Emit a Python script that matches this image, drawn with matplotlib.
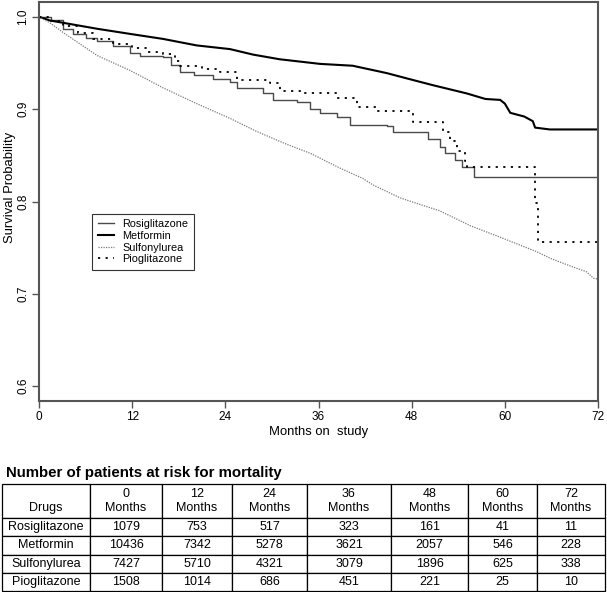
#!/usr/bin/env python3
# Kaplan-Meier style survival curves by drug, with the number-at-risk table below

import numpy as np
import matplotlib
matplotlib.use("Agg")
import matplotlib.pyplot as plt

plt.rcParams['font.family'] = ['Liberation Sans', 'DejaVu Sans']

# survival curves (months, survival probability)
metformin_t = [0, 1.4, 3.1, 7.5, 11.7, 16, 20.3, 24.6, 27.6, 31, 36.2, 40.4, 44.8, 47.5,
               50.7, 55.1, 57.5, 59.4, 60.0, 60.7, 62.5, 63.6, 63.9, 65.8, 72]
metformin_s = [1.0, 0.996, 0.9935, 0.987, 0.9815, 0.976, 0.969, 0.965, 0.959, 0.954, 0.949,
               0.947, 0.939, 0.933, 0.926, 0.917, 0.911, 0.910, 0.906, 0.896, 0.892, 0.887,
               0.880, 0.878, 0.878]

sulfonylurea_t = [0, 1.4, 3.1, 7.5, 11.7, 16, 20.3, 24.6, 28, 31.6, 35, 38.8, 41.7, 43, 46.5,
                  49, 51.6, 55.5, 59.8, 64, 66, 68.8, 70.5, 71.4, 72]
sulfonylurea_s = [1.0, 0.9935, 0.983, 0.958, 0.942, 0.923, 0.906, 0.890, 0.876, 0.863, 0.852,
                  0.836, 0.825, 0.818, 0.804, 0.797, 0.790, 0.774, 0.760, 0.746, 0.738, 0.729,
                  0.724, 0.717, 0.716]

rosiglitazone_t = [0, 1.5, 3.1, 4.4, 6, 7.5, 9.5, 11.7, 13, 16, 17, 18.2, 20, 22.4, 24.6, 25.5,
                   28.9, 30.2, 33.2, 34.9, 36.2, 38.4, 40.1, 44.8, 45.6, 50.1, 51.6, 52.3,
                   53.6, 54.5, 56, 72]
rosiglitazone_s = [1.0, 0.996, 0.987, 0.981, 0.977, 0.974, 0.968, 0.961, 0.958, 0.956, 0.948,
                   0.940, 0.937, 0.933, 0.929, 0.923, 0.917, 0.910, 0.908, 0.900, 0.896, 0.891,
                   0.883, 0.882, 0.875, 0.868, 0.859, 0.853, 0.845, 0.837, 0.826, 0.826]

pioglitazone_t = [0, 1.5, 3.1, 5, 7, 9.5, 12, 14, 16, 17.5, 18.2, 21, 23.3, 25.5, 29.7, 31, 34,
                  38.4, 41, 43.5, 48.2, 52, 52.9, 53.8, 54.9, 55.1, 63.9, 64.3, 72]
pioglitazone_s = [1.0, 0.995, 0.990, 0.982, 0.976, 0.971, 0.966, 0.962, 0.960, 0.952, 0.947,
                  0.943, 0.940, 0.932, 0.928, 0.920, 0.917, 0.912, 0.902, 0.898, 0.886, 0.875,
                  0.866, 0.855, 0.844, 0.837, 0.798, 0.756, 0.756]

# number at risk table
drugs = ["Rosiglitazone", "Metformin", "Sulfonylurea", "Pioglitazone"]
months = [0, 12, 24, 36, 48, 60, 72]
at_risk = [
    [1079, 753, 517, 323, 161, 41, 11],
    [10436, 7342, 5278, 3621, 2057, 546, 228],
    [7427, 5710, 4321, 3079, 1896, 625, 338],
    [1508, 1014, 686, 451, 221, 25, 10],
]

W, H = 607, 592
fig = plt.figure(figsize=(W / 100, H / 100), dpi=100)

# ---- survival plot ----
ax = fig.add_axes([39 / W, (H - 401) / H, (598 - 39) / W, (401 - 2) / H])
ax.plot(rosiglitazone_t, rosiglitazone_s, drawstyle='steps-post', color='#4a4a4a', lw=1.0,
        label='Rosiglitazone')
ax.plot(metformin_t, metformin_s, color='black', lw=1.5, label='Metformin')
ax.plot(sulfonylurea_t, sulfonylurea_s, color='#7a7a7a', lw=0.9, linestyle=(0, (1, 1)),
        label='Sulfonylurea')
ax.plot(pioglitazone_t, pioglitazone_s, drawstyle='steps-post', color='black', lw=1.3,
        linestyle=(0, (1.2, 3)), label='Pioglitazone')

ax.set_xlim(0, 72)
ax.set_ylim(0.584, 1.016)
ax.set_xticks(months)
ax.set_yticks([0.6, 0.7, 0.8, 0.9, 1.0])
ax.set_yticklabels(['0.6', '0.7', '0.8', '0.9', '1.0'], rotation=90, va='center')
ax.tick_params(direction='out', length=5, width=1, color='#555555', labelsize=8.5, pad=2)
for sp in ax.spines.values():
    sp.set_color('#555555')
    sp.set_linewidth(1.5)
ax.set_xlabel('Months on  study', fontsize=9.4, labelpad=2)
ax.set_ylabel('Survival Probability', fontsize=9.4)
ax.yaxis.set_label_coords(-0.041, 0.534)

leg = ax.legend(loc='upper left', bbox_to_anchor=(0.095, 0.469), borderaxespad=0,
                fontsize=7.8, frameon=True, fancybox=False, handlelength=1.5,
                handletextpad=0.8, labelspacing=0.15, borderpad=0.5)
leg.get_frame().set_edgecolor('black')
leg.get_frame().set_linewidth(0.8)

# ---- at-risk table ----
fig.text(6 / W, 1 - 473 / H, 'Number of patients at risk for mortality', fontsize=10.8,
         fontweight='bold', va='center', ha='left')

tax = fig.add_axes([2 / W, 1 / H, 603 / W, 107 / H])
tax.axis('off')
header = ['\nDrugs'] + ['%d\nMonths' % m for m in months]
cells = [[d] + [str(v) for v in row] for d, row in zip(drugs, at_risk)]
col_px = [88, 72, 70, 75, 84, 77, 69, 68]
col_w = [w / sum(col_px) for w in col_px]
tbl = tax.table(cellText=[header] + cells, colWidths=col_w, cellLoc='center',
                bbox=[0, 0, 1, 1])
tbl.auto_set_font_size(False)
tbl.set_fontsize(9)
for (r, c), cell in tbl.get_celld().items():
    cell.set_edgecolor('black')
    cell.set_linewidth(0.9)
    cell.set_height(34 if r == 0 else 18.25)

fig.savefig('out.png', dpi=100)
